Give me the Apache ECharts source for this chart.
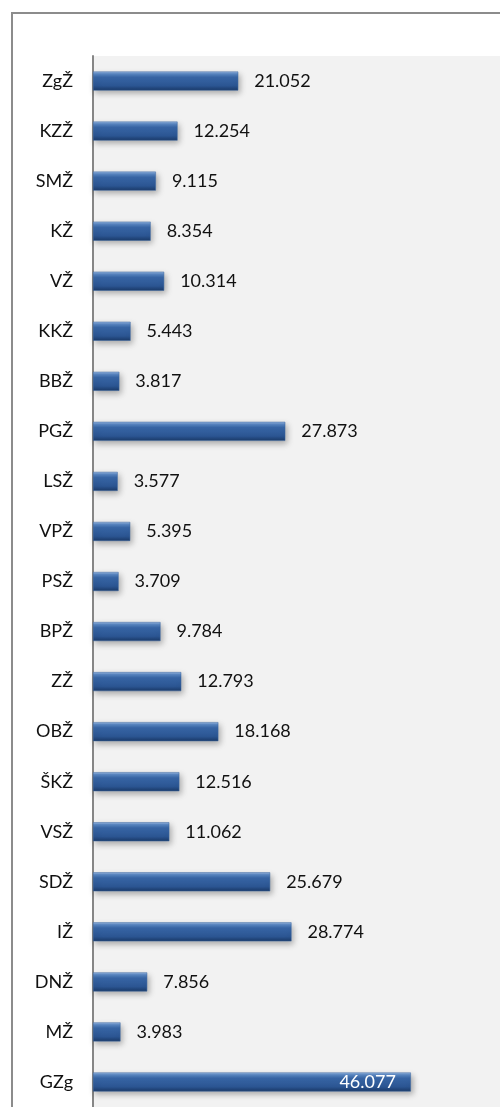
<!DOCTYPE html>
<html>
<head>
<meta charset="utf-8">
<script src="https://cdn.jsdelivr.net/npm/echarts@6/dist/echarts.min.js"></script>
<style>
  html, body { margin: 0; padding: 0; background: #fff; }
  #main { width: 500px; height: 1107px; }
</style>
</head>
<body>
<div id="main"></div>
<script>
// categories top to bottom
var categories = ['ZgŽ', 'KZŽ', 'SMŽ', 'KŽ', 'VŽ', 'KKŽ', 'BBŽ', 'PGŽ', 'LSŽ', 'VPŽ', 'PSŽ',
    'BPŽ', 'ZŽ', 'OBŽ', 'ŠKŽ', 'VSŽ', 'SDŽ', 'IŽ', 'DNŽ', 'MŽ', 'GZg'];
var values = [21.052, 12.254, 9.115, 8.354, 10.314, 5.443, 3.817, 27.873, 3.577, 5.395, 3.709,
    9.784, 12.793, 18.168, 12.516, 11.062, 25.679, 28.774, 7.856, 3.983, 46.077];
var labelTexts = ['21.052', '12.254', '9.115', '8.354', '10.314', '5.443', '3.817', '27.873', '3.577', '5.395', '3.709',
    '9.784', '12.793', '18.168', '12.516', '11.062', '25.679', '28.774', '7.856', '3.983', '46.077'];

var myChart = echarts.init(document.getElementById('main'));

var barColor = new echarts.graphic.LinearGradient(0, 0, 0, 1, [
    { offset: 0, color: '#9dbbe3' },
    { offset: 0.12, color: '#5a87c2' },
    { offset: 0.3, color: '#3866a6' },
    { offset: 0.75, color: '#2b5592' },
    { offset: 1, color: '#1b3a68' }
]);

var data = values.map(function (v, i) {
    var item = { value: v };
    // the longest bar keeps its label inside, in white
    if (i === values.length - 1) {
        item.label = { position: 'insideRight', color: '#ffffff', distance: 15 };
    }
    return item;
});

var option = {
    backgroundColor: '#ffffff',
    animation: false,
    graphic: [{
        type: 'rect',
        z: -10,
        shape: { x: 12, y: 13, width: 600, height: 1200 },
        style: { fill: 'none', stroke: '#8c8c8c', lineWidth: 2 }
    }],
    grid: {
        left: 93,
        right: 0,
        top: 56,
        bottom: -6,
        show: true,
        backgroundColor: '#f2f2f2',
        borderWidth: 0
    },
    xAxis: {
        type: 'value',
        min: 0,
        max: 59,
        show: false
    },
    yAxis: {
        type: 'category',
        inverse: true,
        data: categories,
        axisLine: { show: true, lineStyle: { color: '#868686', width: 2 } },
        axisTick: { show: false },
        axisLabel: {
            color: '#111111',
            fontFamily: 'Lato',
            fontSize: 18,
            margin: 20
        }
    },
    series: [{
        type: 'bar',
        data: data,
        barWidth: 19,
        itemStyle: {
            color: barColor,
            borderColor: '#3b66a0',
            borderWidth: 0.5,
            shadowColor: 'rgba(0,0,0,0.3)',
            shadowBlur: 6,
            shadowOffsetX: 2,
            shadowOffsetY: 3
        },
        label: {
            show: true,
            position: 'right',
            distance: 16,
            color: '#111111',
            fontFamily: 'Lato',
            fontSize: 18,
            formatter: function (p) {
                return labelTexts[p.dataIndex];
            }
        }
    }]
};

myChart.setOption(option);
</script>
</body>
</html>
